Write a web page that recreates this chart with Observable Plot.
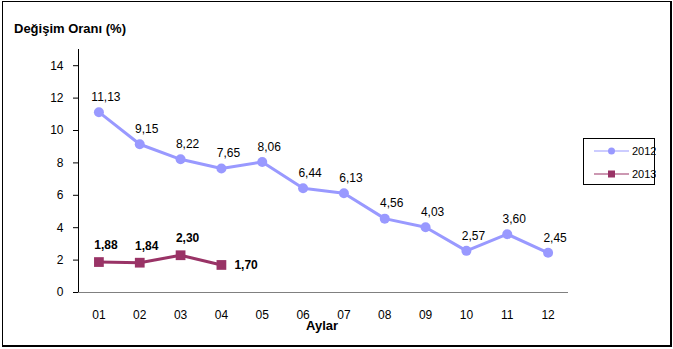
<!DOCTYPE html>
<html>
<head>
<meta charset="utf-8">
<script src="https://cdn.jsdelivr.net/npm/d3@7"></script>
<script src="https://cdn.jsdelivr.net/npm/@observablehq/plot@0.6"></script>
<style>
  html, body { margin: 0; padding: 0; background: #fff; }
  #wrap { position: relative; width: 673px; height: 349px; font-family: "Liberation Sans", Arial, sans-serif; overflow: hidden; }
  #frame { position: absolute; left: 2px; top: 1px; width: 667px; height: 343px; border: 1px solid #000; border-right-width: 2px; border-bottom-width: 2px; pointer-events: none; }
  #title { position: absolute; left: 14px; top: 21px; font-size: 13px; font-weight: bold; color: #000; }
  #xlabel { position: absolute; left: 306px; top: 318px; font-size: 13px; font-weight: bold; color: #000; }
  #legend { position: absolute; left: 583px; top: 138px; width: 72px; height: 47px; border: 1px solid #000; box-sizing: border-box; background: #fff; }
  #legend svg { position: absolute; left: 0; top: 0; }
</style>
</head>
<body>
<div id="wrap">
  <div id="chart"></div>
  <div id="title">Değişim Oranı (%)</div>
  <div id="xlabel">Aylar</div>
  <div id="legend"></div>
  <div id="frame"></div>
</div>
<script>
const months = ["01","02","03","04","05","06","07","08","09","10","11","12"];
const values2012 = [11.13, 9.15, 8.22, 7.65, 8.06, 6.44, 6.13, 4.56, 4.03, 2.57, 3.60, 2.45];
const values2013 = [1.88, 1.84, 2.30, 1.70];
const seriesNames = ["2012", "2013"];
const seriesColors = ["#9999ff", "#993366"];
const yTicks = [0, 2, 4, 6, 8, 10, 12, 14];

const fmt = v => v.toFixed(2).replace(".", ",");
const d2012 = values2012.map((v, i) => ({month: months[i], value: v}));
const d2013 = values2013.map((v, i) => ({month: months[i], value: v, last: i === values2013.length - 1}));

const chart = Plot.plot({
  width: 673,
  height: 349,
  marginLeft: 78,
  marginRight: 105,
  marginTop: 49,
  marginBottom: 57,
  style: {fontFamily: "Liberation Sans, Arial, sans-serif", fontSize: "12px", color: "#000", background: "transparent"},
  x: {type: "band", domain: months, padding: 0, round: false, label: null},
  y: {domain: [0, 15], label: null},
  marks: [
    Plot.frame({anchor: "left", stroke: "#000"}),
    Plot.ruleY([0], {stroke: "#808080"}),
    Plot.axisY({ticks: yTicks, tickSize: 5, tickPadding: 10, stroke: "#000", fontSize: 12}),
    Plot.axisX({tickSize: 0, tickPadding: 18, fontSize: 12}),
    Plot.line(d2012, {x: "month", y: "value", stroke: seriesColors[0], strokeWidth: 3}),
    Plot.dot(d2012, {x: "month", y: "value", fill: seriesColors[0], r: 5}),
    Plot.text(d2012, {x: "month", y: "value", text: d => fmt(d.value), dy: -15, dx: 7, fontSize: 12, fill: "#000"}),
    Plot.line(d2013, {x: "month", y: "value", stroke: seriesColors[1], strokeWidth: 3}),
    Plot.dot(d2013, {x: "month", y: "value", fill: seriesColors[1], symbol: "square", r: 5.5}),
    Plot.text(d2013.filter(d => !d.last), {x: "month", y: "value", text: d => fmt(d.value), dy: -17, dx: 7, fontSize: 12, fontWeight: "bold", fill: "#000"}),
    Plot.text(d2013.filter(d => d.last), {x: "month", y: "value", text: d => fmt(d.value), dx: 13, textAnchor: "start", fontSize: 12, fontWeight: "bold", fill: "#000"})
  ]
});
document.getElementById("chart").appendChild(chart);

// legend
const lg = d3.select("#legend").append("svg").attr("width", 72).attr("height", 47);
seriesNames.forEach((name, i) => {
  const y = 12 + i * 23;
  lg.append("line").attr("x1", 10).attr("x2", 45).attr("y1", y).attr("y2", y).attr("stroke", seriesColors[i]).attr("stroke-width", 1.2);
  if (i === 0) lg.append("circle").attr("cx", 27.5).attr("cy", y).attr("r", 3.5).attr("fill", seriesColors[i]);
  else lg.append("rect").attr("x", 24).attr("y", y - 3.5).attr("width", 7).attr("height", 7).attr("fill", seriesColors[i]);
  lg.append("text").attr("x", 48).attr("y", y + 4).attr("font-size", 11).attr("font-family", "Liberation Sans, Arial, sans-serif").text(name);
});
</script>
</body>
</html>
